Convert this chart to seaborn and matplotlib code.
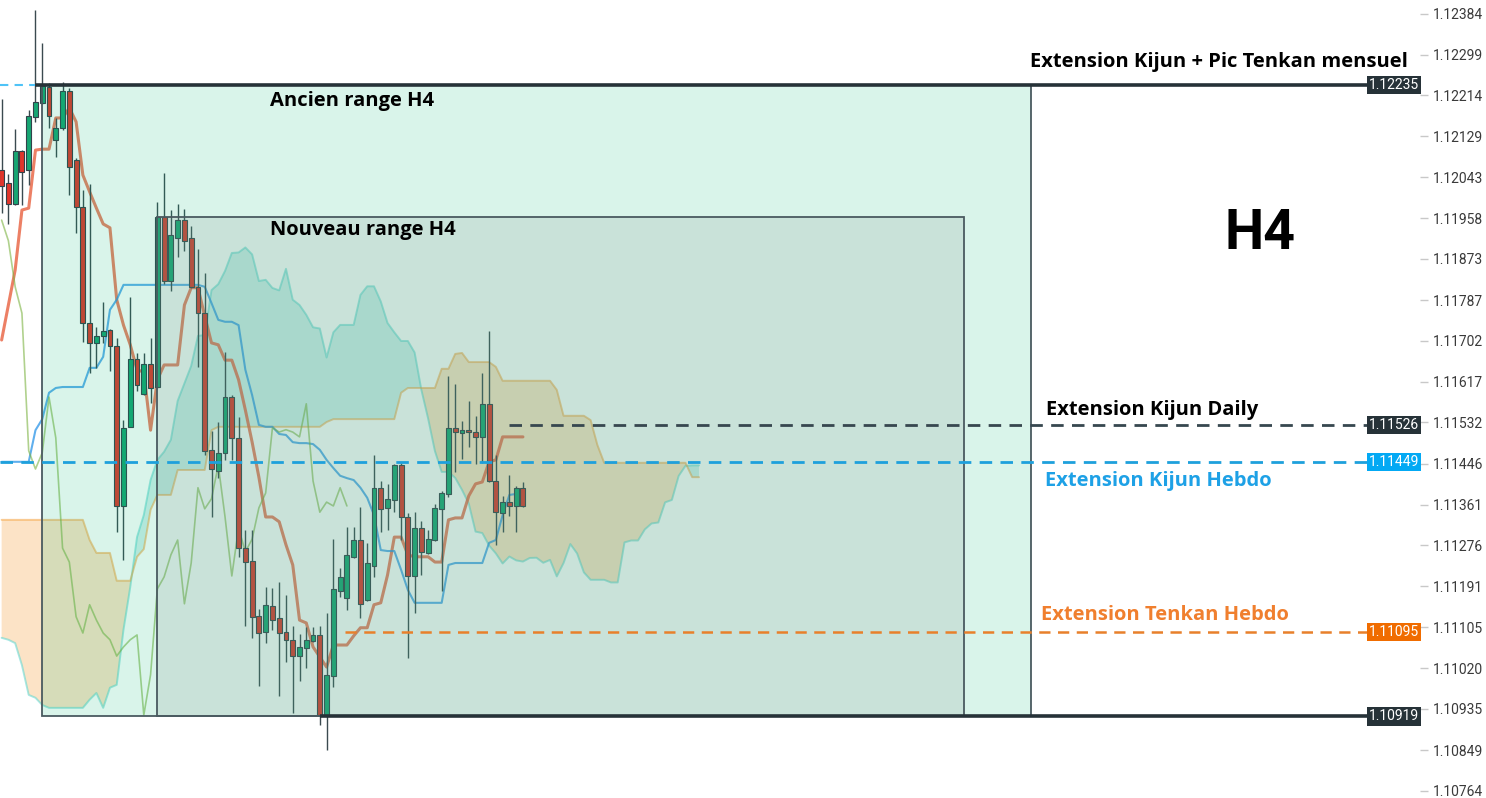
import matplotlib.pyplot as plt
import matplotlib.transforms as mtransforms
from matplotlib.patches import Rectangle
import numpy as np
import pandas as pd
import seaborn as sns

# H4 candles (oldest first)
opens = [1.12059, 1.12031, 1.11988, 1.12098, 1.12059, 1.12169, 1.12198, 1.12232, 1.12121, 1.12146,
         1.12223, 1.12079, 1.11981, 1.11740, 1.11698, 1.11712, 1.11725, 1.11692, 1.11358, 1.11523,
         1.11664, 1.11592, 1.11654, 1.11606, 1.11961, 1.11827, 1.11917, 1.11954, 1.11917, 1.11815,
         1.11760, 1.11475, 1.11431, 1.11469, 1.11585, 1.11500, 1.11270, 1.11243, 1.11129, 1.11095,
         1.11150, 1.11124, 1.11095, 1.11079, 1.11045, 1.11062, 1.11077, 1.11089, 1.10922, 1.11004,
         1.11181, 1.11166, 1.11252, 1.11287, 1.11162, 1.11233, 1.11396, 1.11354, 1.11371, 1.11443,
         1.11335, 1.11212, 1.11312, 1.11260, 1.11287, 1.11352, 1.11383, 1.11521, 1.11510, 1.11517,
         1.11512, 1.11502, 1.11571, 1.11410, 1.11343, 1.11366, 1.11358, 1.11396]
highs = [1.12207, 1.12050, 1.12144, 1.12100, 1.12184, 1.12392, 1.12323, 1.12240, 1.12167, 1.12242,
         1.12230, 1.12084, 1.12017, 1.12029, 1.11731, 1.11783, 1.11726, 1.11708, 1.11537, 1.11794,
         1.11677, 1.11677, 1.11708, 1.11992, 1.12052, 1.11975, 1.11988, 1.11977, 1.11942, 1.11894,
         1.11844, 1.11514, 1.11533, 1.11679, 1.11589, 1.11544, 1.11308, 1.11308, 1.11143, 1.11189,
         1.11187, 1.11200, 1.11172, 1.11108, 1.11091, 1.11106, 1.11106, 1.11108, 1.11135, 1.11289,
         1.11229, 1.11314, 1.11314, 1.11356, 1.11281, 1.11464, 1.11410, 1.11404, 1.11446, 1.11448,
         1.11343, 1.11345, 1.11327, 1.11308, 1.11362, 1.11389, 1.11629, 1.11612, 1.11535, 1.11577,
         1.11546, 1.11635, 1.11723, 1.11464, 1.11379, 1.11423, 1.11400, 1.11408]
lows = [1.11969, 1.11946, 1.11986, 1.11986, 1.12027, 1.12159, 1.12196, 1.12146, 1.12085, 1.12142,
        1.12006, 1.11927, 1.11700, 1.11635, 1.11646, 1.11698, 1.11639, 1.11304, 1.11245, 1.11522,
        1.11598, 1.11589, 1.11573, 1.11604, 1.11821, 1.11806, 1.11877, 1.11890, 1.11813, 1.11648,
        1.11464, 1.11335, 1.11416, 1.11454, 1.11454, 1.11252, 1.11108, 1.11083, 1.10983, 1.11072,
        1.11099, 1.10962, 1.11033, 1.10926, 1.10993, 1.11020, 1.11074, 1.10901, 1.10849, 1.10981,
        1.11168, 1.11141, 1.11250, 1.11124, 1.11160, 1.11210, 1.11304, 1.11308, 1.11345, 1.11287,
        1.11041, 1.11135, 1.11214, 1.11258, 1.11285, 1.11181, 1.11377, 1.11429, 1.11456, 1.11481,
        1.11446, 1.11448, 1.11408, 1.11277, 1.11304, 1.11337, 1.11304, 1.11356]
closes = [1.12025, 1.11988, 1.12098, 1.12054, 1.12171, 1.12200, 1.12234, 1.12171, 1.12146, 1.12223,
          1.12065, 1.11981, 1.11740, 1.11698, 1.11712, 1.11723, 1.11692, 1.11358, 1.11521, 1.11664,
          1.11610, 1.11654, 1.11604, 1.11961, 1.11827, 1.11923, 1.11954, 1.11911, 1.11815, 1.11760,
          1.11473, 1.11435, 1.11469, 1.11585, 1.11500, 1.11270, 1.11241, 1.11127, 1.11093, 1.11152,
          1.11120, 1.11093, 1.11079, 1.11045, 1.11064, 1.11079, 1.11089, 1.10922, 1.11006, 1.11185,
          1.11210, 1.11256, 1.11287, 1.11154, 1.11239, 1.11396, 1.11352, 1.11373, 1.11443, 1.11335,
          1.11212, 1.11312, 1.11262, 1.11289, 1.11354, 1.11385, 1.11521, 1.11512, 1.11517, 1.11512,
          1.11502, 1.11571, 1.11410, 1.11345, 1.11366, 1.11358, 1.11396, 1.11358]

# Ichimoku lines
tenkan = [1.11704, 1.11777, 1.11850, 1.11975, 1.11979, 1.12100, 1.12102, 1.12102, 1.12167, 1.12167,
          1.12188, 1.12159, 1.12048, 1.12013, 1.11979, 1.11946, 1.11938, 1.11788, 1.11735, 1.11694,
          1.11642, 1.11637, 1.11516, 1.11621, 1.11652, 1.11652, 1.11652, 1.11777, 1.11813, 1.11813,
          1.11754, 1.11698, 1.11694, 1.11662, 1.11662, 1.11621, 1.11558, 1.11491, 1.11418, 1.11335,
          1.11335, 1.11325, 1.11277, 1.11235, 1.11120, 1.11114, 1.11064, 1.11043, 1.11022, 1.11068,
          1.11068, 1.11068, 1.11087, 1.11104, 1.11104, 1.11152, 1.11156, 1.11214, 1.11293, 1.11293,
          1.11256, 1.11252, 1.11252, 1.11252, 1.11241, 1.11241, 1.11329, 1.11333, 1.11333, 1.11379,
          1.11404, 1.11408, 1.11450, 1.11454, 1.11502, 1.11502, 1.11502, 1.11502]
kijun = [1.11450, 1.11450, 1.11450, 1.11450, 1.11450, 1.11516, 1.11539, 1.11594, 1.11604, 1.11606,
         1.11606, 1.11606, 1.11606, 1.11646, 1.11646, 1.11669, 1.11767, 1.11788, 1.11819, 1.11819,
         1.11819, 1.11819, 1.11819, 1.11819, 1.11819, 1.11819, 1.11819, 1.11819, 1.11819, 1.11819,
         1.11815, 1.11781, 1.11746, 1.11742, 1.11742, 1.11735, 1.11642, 1.11589, 1.11527, 1.11523,
         1.11523, 1.11508, 1.11506, 1.11491, 1.11489, 1.11489, 1.11487, 1.11475, 1.11454, 1.11437,
         1.11421, 1.11416, 1.11412, 1.11396, 1.11375, 1.11339, 1.11266, 1.11264, 1.11264, 1.11225,
         1.11183, 1.11156, 1.11156, 1.11156, 1.11156, 1.11156, 1.11235, 1.11239, 1.11239, 1.11239,
         1.11239, 1.11239, 1.11281, 1.11287, 1.11339, 1.11381, 1.11383, 1.11383]
# first 26 points of Senkou A (older than the visible tenkan/kijun)
senkou_a_early = [1.11083, 1.11079, 1.11072, 1.11026, 1.10964, 1.10958, 1.10943, 1.10937, 1.10937, 1.10937,
                  1.10937, 1.10937, 1.10937, 1.10954, 1.10968, 1.10937, 1.10979, 1.10985, 1.11100, 1.11189,
                  1.11293, 1.11339, 1.11412, 1.11454, 1.11471, 1.11496]
senkou_b = [1.11329, 1.11329, 1.11329, 1.11329, 1.11329, 1.11329, 1.11329, 1.11329, 1.11329, 1.11329,
            1.11329, 1.11329, 1.11329, 1.11287, 1.11260, 1.11260, 1.11260, 1.11202, 1.11202, 1.11202,
            1.11252, 1.11268, 1.11350, 1.11381, 1.11381, 1.11381, 1.11433, 1.11433, 1.11433, 1.11433,
            1.11433, 1.11516, 1.11523, 1.11523, 1.11523, 1.11523, 1.11523, 1.11523, 1.11523, 1.11523,
            1.11523, 1.11523, 1.11523, 1.11523, 1.11523, 1.11523, 1.11523, 1.11523, 1.11533, 1.11539,
            1.11539, 1.11539, 1.11539, 1.11539, 1.11539, 1.11539, 1.11539, 1.11539, 1.11539, 1.11594,
            1.11604, 1.11604, 1.11604, 1.11604, 1.11604, 1.11644, 1.11644, 1.11675, 1.11677, 1.11658,
            1.11658, 1.11658, 1.11658, 1.11648, 1.11619, 1.11619, 1.11619, 1.11619, 1.11619, 1.11619,
            1.11619, 1.11619, 1.11600, 1.11546, 1.11546, 1.11546, 1.11546, 1.11537, 1.11485, 1.11448,
            1.11448, 1.11448, 1.11448, 1.11448, 1.11448, 1.11448, 1.11448, 1.11448, 1.11448, 1.11448,
            1.11448, 1.11448, 1.11418, 1.11418]

# price scale
tick_values = [1.12384, 1.12299, 1.12214, 1.12129, 1.12043, 1.11958, 1.11873, 1.11787, 1.11702, 1.11617,
               1.11532, 1.11446, 1.11361, 1.11276, 1.11191, 1.11105, 1.11020, 1.10935, 1.10849, 1.10764]

# drawn levels and ranges
level_mensuel = 1.12235
level_daily = 1.11526
level_kijun_hebdo = 1.11449
level_tenkan_hebdo = 1.11095
level_bottom = 1.10919
nouveau_top = 1.11961

sns.set_theme(style='white')
plt.rcParams['font.family'] = ['Roboto', 'DejaVu Sans']
title_font = ['Open Sans', 'DejaVu Sans']

fig = plt.figure(figsize=(14.86, 7.98), dpi=100)
ax = fig.add_axes([0, 0, 1420 / 1486, 1])

n = len(closes)
shift = 26
bars = np.arange(n)
o, h, l, c = map(np.array, (opens, highs, lows, closes))

# cloud (senkou A is (tenkan + kijun) / 2 pushed 26 bars ahead)
span_a = np.concatenate([senkou_a_early, (np.array(tenkan) + np.array(kijun)) / 2])
span_b = np.array(senkou_b)
cloud_x = np.arange(len(span_b))
ax.fill_between(cloud_x, span_a, span_b, where=span_a >= span_b, interpolate=True,
                color='#1fb5a5', alpha=0.2, lw=0, zorder=1)
ax.fill_between(cloud_x, span_a, span_b, where=span_a < span_b, interpolate=True,
                color='#f7901e', alpha=0.25, lw=0, zorder=1)
ax.plot(cloud_x, span_a, color='#5cd6cf', alpha=0.55, lw=1.4, zorder=1.5)
ax.plot(cloud_x, span_b, color='#f5a440', alpha=0.55, lw=1.4, zorder=1.5)

# tenkan, kijun, chikou
df_lines = pd.DataFrame({'bar': bars, 'tenkan': tenkan, 'kijun': kijun})
sns.lineplot(data=df_lines, x='bar', y='tenkan', ax=ax, color='#e8603f', alpha=0.8, lw=2.2, zorder=2)
sns.lineplot(data=df_lines, x='bar', y='kijun', ax=ax, color='#2b95e8', alpha=0.75, lw=1.5, zorder=2)
df_chikou = pd.DataFrame({'bar': bars[:n - shift], 'chikou': closes[shift:]})
sns.lineplot(data=df_chikou, x='bar', y='chikou', ax=ax, color='#7cb342', alpha=0.6, lw=1.2, zorder=2)

# candles
up = c >= o
ax.vlines(bars, l, h, color='#3b4a50', lw=1.0, zorder=3)
ax.bar(bars, c - o, bottom=o, width=0.72, color=np.where(up, '#17a673', '#e0352b'),
       edgecolor='#33424a', linewidth=0.8, zorder=4)

# ranges
ax.add_patch(Rectangle((6, level_bottom), 146.1, level_mensuel - level_bottom,
                       facecolor='#00b673', alpha=0.15, lw=0, zorder=5))
ax.add_patch(Rectangle((6, level_bottom), 146.1, level_mensuel - level_bottom,
                       fill=False, edgecolor='#4a5a60', lw=1.3, zorder=6))
ax.add_patch(Rectangle((23, level_bottom), 119.2, nouveau_top - level_bottom,
                       facecolor='#7f8f88', alpha=0.17, lw=0, zorder=5))
ax.add_patch(Rectangle((23, level_bottom), 119.2, nouveau_top - level_bottom,
                       fill=False, edgecolor='#4a5a60', lw=1.3, zorder=6))

# levels
x_end = 209.5
ax.hlines(level_mensuel, -0.3, 6, color='#4fc3f7', lw=1.5, ls=(0, (4, 3)), zorder=7)
ax.hlines(level_mensuel, 5, x_end, color='#263238', lw=2.6, zorder=7)
ax.hlines(level_bottom, 47, x_end, color='#263238', lw=2.6, zorder=7)
ax.hlines(level_daily, 75, x_end, color='#37474f', lw=2.0, ls=(0, (4.5, 3)), zorder=7)
ax.hlines(level_kijun_hebdo, -0.3, x_end, color='#1ea0dc', lw=2.0, ls=(0, (4.5, 3)), zorder=7)
ax.hlines(level_tenkan_hebdo, 50.7, x_end, color='#e8802b', lw=1.8, ls=(0, (4.5, 3)), zorder=7)

# price tags on the right edge
trans = mtransforms.blended_transform_factory(ax.transAxes, ax.transData)
for val, col in [(level_mensuel, '#263238'), (level_daily, '#263238'),
                 (level_kijun_hebdo, '#03a9f4'), (level_tenkan_hebdo, '#f06c00'),
                 (level_bottom, '#263238')]:
    ax.text(0.9995, val, f'{val:.5f}', transform=trans, ha='right', va='center',
            color='white', fontsize=10, zorder=9,
            bbox=dict(boxstyle='square,pad=0.15', fc=col, ec='none'))

# annotations
ax.text(39.6, 1.12202, 'Ancien range H4', fontsize=14.5, fontweight='bold', family=title_font,
        va='center', ha='left', color='black', zorder=8)
ax.text(39.6, 1.11933, 'Nouveau range H4', fontsize=14.5, fontweight='bold', family=title_font,
        va='center', ha='left', color='black', zorder=8)
ax.text(207.7, 1.12284, 'Extension Kijun + Pic Tenkan mensuel', fontsize=14.5, fontweight='bold',
        family=title_font, va='center', ha='right', color='black', zorder=8)
ax.text(185.9, 1.11926, 'H4', fontsize=40, fontweight='bold', family=['Roboto', 'DejaVu Sans'],
        va='center', ha='center', color='black', zorder=8)
ax.text(154.3, 1.11558, 'Extension Kijun Daily', fontsize=14.5, fontweight='bold', family=title_font,
        va='center', ha='left', color='black', zorder=8)
ax.text(154.1, 1.11410, 'Extension Kijun Hebdo', fontsize=14.5, fontweight='bold', family=title_font,
        va='center', ha='left', color='#1ea1e6', zorder=8)
ax.text(153.5, 1.11131, 'Extension Tenkan Hebdo', fontsize=14.5, fontweight='bold', family=title_font,
        va='center', ha='left', color='#f07f2e', zorder=8)

# axes styling
ax.set_xlim(-0.24, x_end)
ax.set_ylim(1.10749, 1.12413)
ax.set_xticks([])
ax.yaxis.tick_right()
ax.set_yticks(tick_values)
ax.set_yticklabels([f'{v:.5f}' for v in tick_values])
ax.tick_params(axis='y', length=6, width=1, color='#c8c8c8', labelcolor='#3a3a3a',
               labelsize=10, pad=3, right=True)
ax.set_xlabel('')
ax.set_ylabel('')
for s in ax.spines.values():
    s.set_visible(False)

fig.savefig('out.png', dpi=100, facecolor='white')
